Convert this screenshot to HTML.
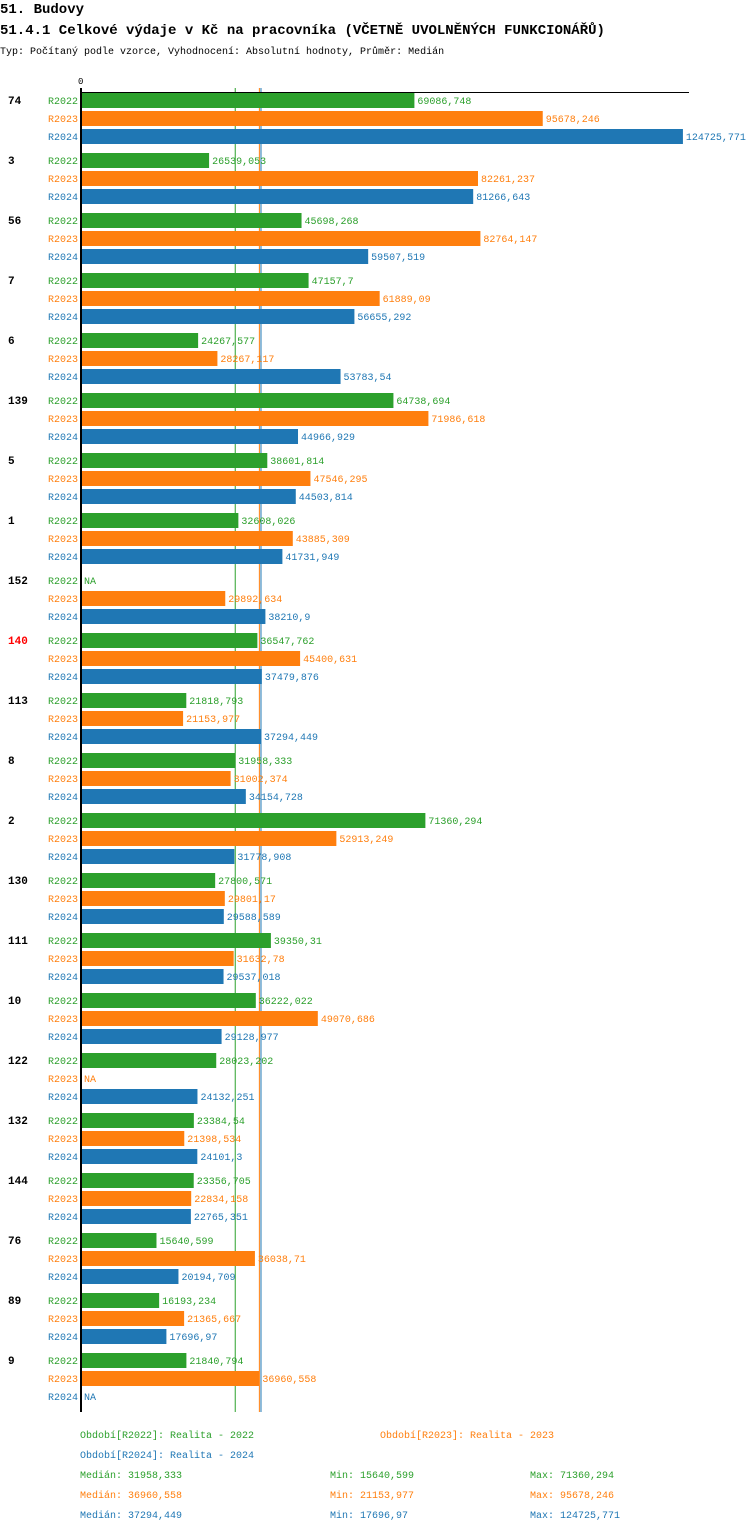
<!DOCTYPE html>
<html><head><meta charset="utf-8"><style>
body{margin:0;background:#fff;width:750px;height:1532px;overflow:hidden;font-family:"Liberation Mono",monospace;}
svg text{font-family:"Liberation Mono",monospace;}
</style></head><body>
<svg id="c" width="750" height="1532">
<text x="0" y="13" font-size="14" font-weight="bold">51. Budovy</text>
<text x="0" y="34" font-size="14" font-weight="bold">51.4.1 Celkové výdaje v Kč na pracovníka (VČETNĚ UVOLNĚNÝCH FUNKCIONÁŘŮ)</text>
<text x="0" y="54" font-size="10">Typ: Počítaný podle vzorce, Vyhodnocení: Absolutní hodnoty, Průměr: Medián</text>
</svg>
<script>
const categories=["74","3","56","7","6","139","5","1","152","140","113","8","2","130","111","10","122","132","144","76","89","9"];
const r2022=[69086.748,26539.053,45698.268,47157.7,24267.577,64738.694,38601.814,32608.026,null,36547.762,21818.793,31958.333,71360.294,27800.571,39350.31,36222.022,28023.202,23384.54,23356.705,15640.599,16193.234,21840.794];
const r2023=[95678.246,82261.237,82764.147,61889.09,28267.117,71986.618,47546.295,43885.309,29892.634,45400.631,21153.977,31002.374,52913.249,29801.17,31632.78,49070.686,null,21398.534,22834.158,36038.71,21365.667,36960.558];
const r2024=[124725.771,81266.643,59507.519,56655.292,53783.54,44966.929,44503.814,41731.949,38210.9,37479.876,37294.449,34154.728,31778.908,29588.589,29537.018,29128.977,24132.251,24101.3,22765.351,20194.709,17696.97,null];
const seriesNames=["R2022","R2023","R2024"];
const seriesColors=["#2ca02c","#ff7f0e","#1f77b4"];
const medians=[31958.333,36960.558,37294.449];
const highlight="140";

const svg=document.getElementById('c');const NS="http://www.w3.org/2000/svg";
const x0=81,scale=0.004826,top0=93,groupH=60,rowH=18,barH=15;
const xs=v=>x0+v*scale;
function mk(t,a,txt){const e=document.createElementNS(NS,t);for(const k in a)e.setAttribute(k,a[k]);if(txt!==undefined)e.textContent=txt;svg.appendChild(e);return e;}
const fmt=v=>String(v).replace('.',',');
const series=[r2022,r2023,r2024];
const yEnd=top0+(categories.length-1)*groupH+59;
medians.forEach((m,j)=>{
  const ln=mk('line',{x1:xs(m),x2:xs(m),y1:88,y2:yEnd,stroke:seriesColors[j],'stroke-width':1});
  
  
});
let t=mk('text',{x:78,y:84,'font-size':9},'0');


categories.forEach((c,i)=>{
  const gy=top0+i*groupH;
  const g=mk('text',{x:8,y:gy+11,'font-size':11,'font-weight':'bold',fill:c===highlight?'#ff0000':'#000'},c);
  
  
  series.forEach((s,j)=>{
    const y=gy+j*rowH;const col=seriesColors[j];
    const l=mk('text',{x:78,y:y+11,'font-size':10,fill:col,'text-anchor':'end'},seriesNames[j]);
    
    
    const v=s[i];
    if(v===null){const n=mk('text',{x:84,y:y+11,'font-size':10,fill:col},'NA');
      
      return;}
    const r=mk('rect',{x:x0,y:y,width:xs(v)-x0,height:barH,fill:col});
    
    
    const vl=mk('text',{x:xs(v)+3,y:y+11,'font-size':10,fill:col},fmt(v));
    
    
  });
});
let a=mk('line',{x1:x0,x2:x0,y1:88,y2:yEnd,stroke:'#000','stroke-width':2});


a=mk('line',{x1:x0,x2:689,y1:92.5,y2:92.5,stroke:'#000','stroke-width':1});


const leg=[[80,1438,0,'Období[R2022]: Realita - 2022'],[380,1438,1,'Období[R2023]: Realita - 2023'],[80,1458,2,'Období[R2024]: Realita - 2024']];
leg.forEach(d=>{const e=mk('text',{x:d[0],y:d[1],'font-size':10,fill:seriesColors[d[2]]},d[3]);
  
  });
series.forEach((s,j)=>{
  const vals=s.filter(v=>v!==null);
  const y=1478+j*20;
  const st=[[80,'Medián: '+fmt(medians[j])],[330,'Min: '+fmt(Math.min(...vals))],[530,'Max: '+fmt(Math.max(...vals))]];
  st.forEach(d=>{const e=mk('text',{x:d[0],y:y,'font-size':10,fill:seriesColors[j]},d[1]);
    
    });
});
</script>
</body></html>
